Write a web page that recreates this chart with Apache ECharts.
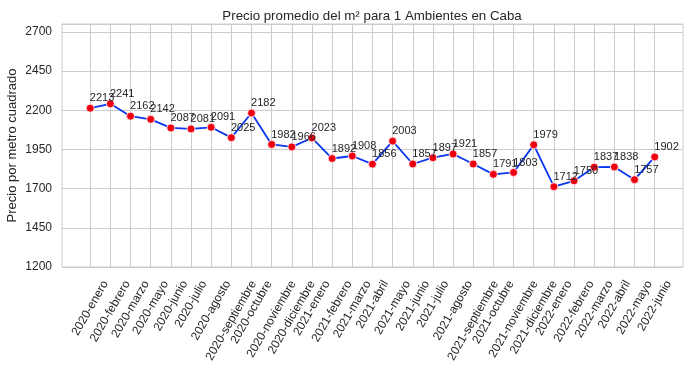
<!DOCTYPE html>
<html>
<head>
<meta charset="utf-8">
<script src="https://cdn.jsdelivr.net/npm/echarts@6/dist/echarts.min.js"></script>
<style>html,body{margin:0;padding:0;background:#fff;}#c{width:691px;height:370px;}</style>
</head>
<body>
<div id="c"></div>
<script>
const categories = ["2020-enero","2020-febrero","2020-marzo","2020-mayo","2020-junio","2020-julio","2020-agosto","2020-septiembre","2020-octubre","2020-noviembre","2020-diciembre","2021-enero","2021-febrero","2021-marzo","2021-abril","2021-mayo","2021-junio","2021-julio","2021-agosto","2021-septiembre","2021-octubre","2021-noviembre","2021-diciembre","2022-enero","2022-febrero","2022-marzo","2022-abril","2022-mayo","2022-junio"];
const prices = [2213,2241,2162,2142,2087,2081,2091,2025,2182,1982,1966,2023,1892,1908,1856,2003,1857,1897,1921,1857,1791,1803,1979,1712,1750,1837,1838,1757,1902];
const yMin = 1200, yMax = 2750, yStep = 250;
const titleText = "Precio promedio del m² para 1 Ambientes en Caba";
const yName = "Precio por metro cuadrado";

const FONT = "Liberation Sans, Arial, sans-serif";
const TXT = "#262626";
const XF = 12;

// matplotlib-style centred rotated labels: per-label padding so the rotated
// text box is centred on its tick and hangs below the axis.
const ctx = document.createElement('canvas').getContext('2d');
ctx.font = XF + 'px ' + FONT;
const lh = 14;
const xData = categories.map(function (c) {
  const w = ctx.measureText(c).width;
  const H = 0.866 * w + 0.5 * lh;
  const s = H / 2;
  const T = Math.max(0, 0.5 * s - lh / 2);
  return {value: c, textStyle: {align: 'center', verticalAlign: 'top', lineHeight: lh,
    fontFamily: FONT, fontSize: XF, color: TXT, padding: [T, 1.732 * s, 0, 0]}};
});

const chart = echarts.init(document.getElementById('c'), null, {renderer: 'canvas'});
chart.setOption({
  animation: false,
  backgroundColor: '#fff',
  title: {
    text: titleText, left: 367, top: 5, textAlign: 'center',
    textStyle: {fontFamily: FONT, fontSize: 13.3, fontWeight: 'normal', color: TXT}
  },
  grid: [
    {left: 62, top: 24, width: 621, height: 243, show: true, borderColor: '#cccccc', borderWidth: 1,
     backgroundColor: 'transparent', outerBoundsMode: 'none', containLabel: false},
    {left: 90.2, top: 24, width: 564.5, height: 243, outerBoundsMode: 'none', containLabel: false}
  ],
  xAxis: [
    {gridIndex: 0, type: 'value', min: 0, max: 1, show: false},
    {gridIndex: 1, type: 'category', data: xData, boundaryGap: false,
     axisLine: {show: false}, axisTick: {show: false},
     splitLine: {show: true, lineStyle: {color: '#cccccc', width: 1}},
     axisLabel: {interval: 0, rotate: 60, margin: 11,
       lineHeight: lh, fontFamily: FONT, fontSize: XF, color: TXT}}
  ],
  yAxis: [
    {gridIndex: 0, type: 'value', min: yMin, max: yMax, interval: yStep,
     name: yName, nameLocation: 'middle', nameGap: 43, nameRotate: 90, nameMoveOverlap: false,
     nameTextStyle: {fontFamily: FONT, fontSize: 13, color: TXT},
     axisLine: {show: false}, axisTick: {show: false},
     axisLabel: {showMaxLabel: false, margin: 10, fontFamily: FONT, fontSize: 12, color: TXT,
       formatter: function (v) { return String(v); }},
     splitLine: {show: true, lineStyle: {color: '#cccccc', width: 1}}},
    {gridIndex: 1, type: 'value', min: yMin, max: yMax, show: false, splitLine: {show: false}}
  ],
  series: [{
    type: 'line', xAxisIndex: 1, yAxisIndex: 1, data: prices,
    lineStyle: {color: '#0a36ee', width: 1.8},
    symbol: 'circle', symbolSize: 8,
    itemStyle: {color: '#ee0011', borderColor: '#ffffff', borderWidth: 0.8},
    label: {show: true, position: [4, -11], align: 'left', verticalAlign: 'top',
      fontFamily: FONT, fontSize: 11, color: TXT}
  }]
});
</script>
</body>
</html>
